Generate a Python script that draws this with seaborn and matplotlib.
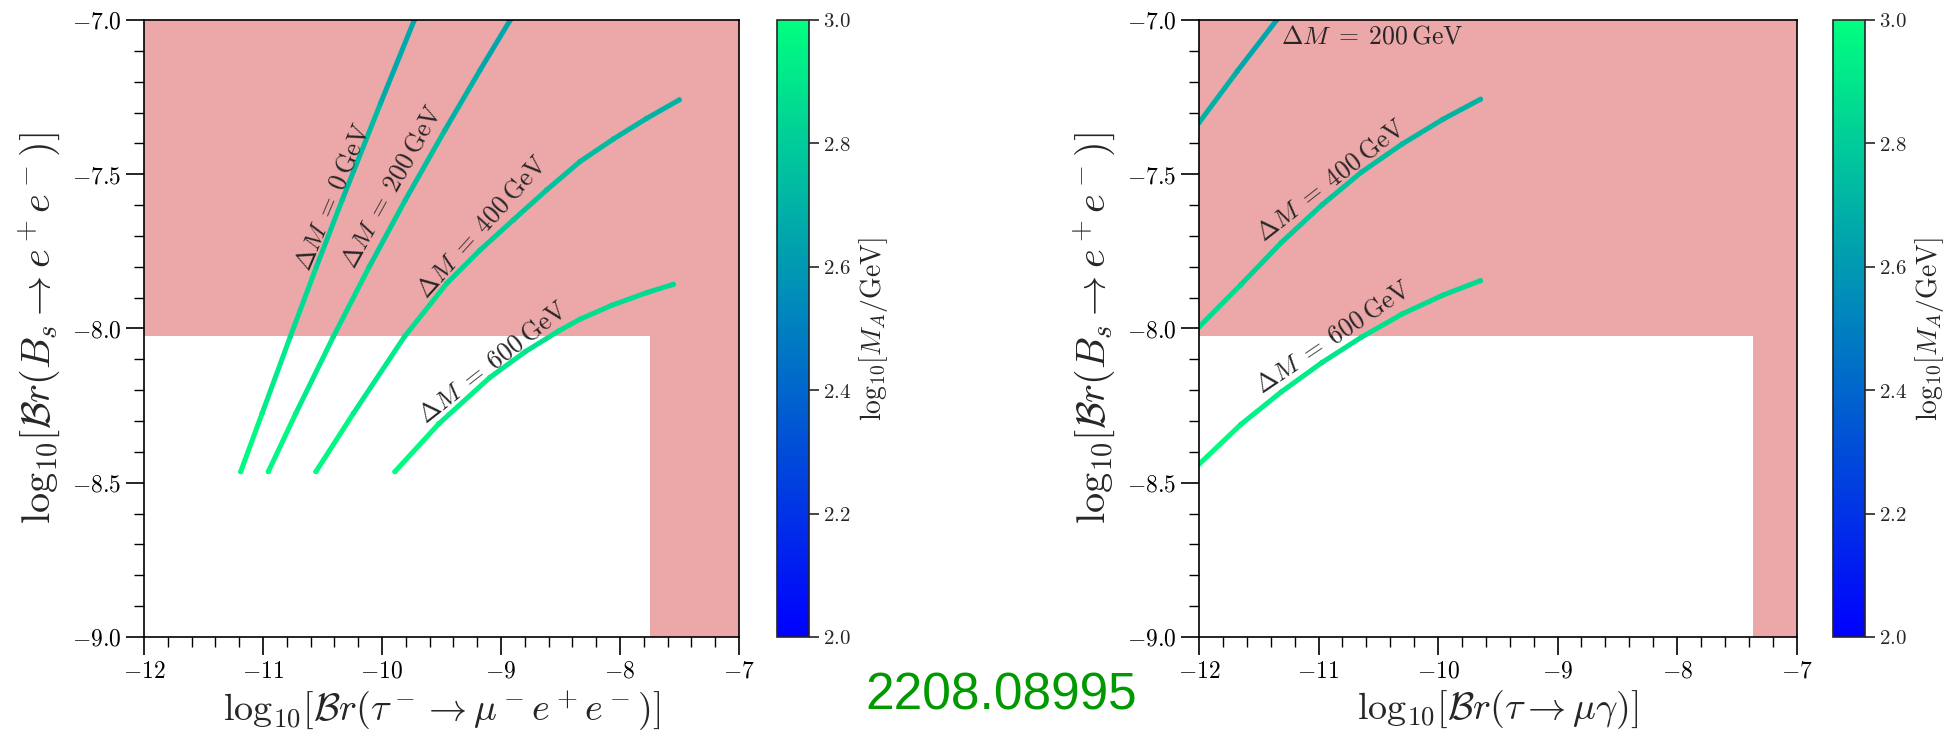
import numpy as np
import pandas as pd
import matplotlib
matplotlib.use('Agg')
import matplotlib.pyplot as plt
import seaborn as sns
from matplotlib.collections import LineCollection
from matplotlib.ticker import FuncFormatter, MultipleLocator

# --- dados (log10 Br) ---
# painel esquerdo: tau -> mu e e
l0_x = [-11.187, -11.007, -10.770, -10.551, -10.334, -10.012, -9.728]
l0_y = [-8.464, -8.275, -8.026, -7.80, -7.583, -7.270, -7.0]
l0_m = [3.0, 2.953, 2.89, 2.834, 2.78, 2.70, 2.634]

l200_x = [-10.955, -10.724, -10.408, -10.107, -9.803, -9.471, -9.175, -8.922]
l200_y = [-8.464, -8.275, -8.026, -7.80, -7.583, -7.357, -7.162, -7.0]
l200_m = [3.0, 2.953, 2.89, 2.834, 2.78, 2.723, 2.674, 2.634]

l400_x = [-10.555, -10.24, -9.81, -9.456, -9.176, -8.896, -8.616, -8.336, -8.056, -7.776, -7.502]
l400_y = [-8.464, -8.275, -8.026, -7.854, -7.746, -7.648, -7.551, -7.459, -7.386, -7.319, -7.259]
l400_m = [3.0, 2.953, 2.89, 2.848, 2.82, 2.796, 2.772, 2.749, 2.731, 2.714, 2.699]

l600_x = [-9.891, -9.523, -9.094, -8.795, -8.515, -8.336, -8.07, -7.776, -7.552]
l600_y = [-8.464, -8.309, -8.159, -8.075, -8.008, -7.970, -7.925, -7.884, -7.857]
l600_m = [3.0, 2.961, 2.924, 2.903, 2.886, 2.877, 2.865, 2.855, 2.848]

# painel direito: tau -> mu gamma
r200_x = [-12.0, -11.68, -11.35]
r200_y = [-7.333, -7.166, -7.0]
r200_m = [2.717, 2.675, 2.634]

r400_x = [-12.0, -11.65, -11.31, -10.97, -10.64, -10.30, -9.96, -9.645]
r400_y = [-7.995, -7.858, -7.721, -7.599, -7.493, -7.402, -7.322, -7.257]
r400_m = [2.883, 2.849, 2.814, 2.784, 2.757, 2.735, 2.715, 2.699]

r600_x = [-12.0, -11.65, -11.31, -10.97, -10.64, -10.30, -9.96, -9.645]
r600_y = [-8.44, -8.311, -8.205, -8.110, -8.028, -7.953, -7.892, -7.845]
r600_m = [2.994, 2.962, 2.936, 2.912, 2.892, 2.873, 2.858, 2.846]

# limites experimentais
bs_limit = -8.025
left_limit = -7.745
right_limit = -7.367

cbar_ticks = [2.0, 2.2, 2.4, 2.6, 2.8, 3.0]

sns.set_style('ticks')
plt.rcParams['mathtext.fontset'] = 'cm'
plt.rcParams['font.family'] = ['DejaVu Serif']

pink = '#eca7a8'
norm = plt.Normalize(2, 3)


def desenha_curva(ax, xs, ys, ms):
    pts = np.column_stack([xs, ys])
    segs = np.stack([pts[:-1], pts[1:]], axis=1)
    lc = LineCollection(segs, cmap='winter', norm=norm, linewidths=3.6,
                        capstyle='round', joinstyle='round', zorder=3)
    ms = np.array(ms)
    lc.set_array((ms[:-1] + ms[1:]) / 2)
    ax.add_collection(lc)
    df = pd.DataFrame({'x': xs, 'y': ys, 'm': ms})
    sns.scatterplot(data=df, x='x', y='y', hue='m', palette='winter', hue_norm=(2, 3),
                    s=14, linewidth=0, legend=False, ax=ax, zorder=4)


def ajusta_eixo(ax, xlabel, xlim_red):
    ax.axhspan(bs_limit, -7, color=pink, lw=0, zorder=1)
    ax.axvspan(xlim_red, -7, color=pink, lw=0, zorder=1)
    ax.set_xlim(-12, -7)
    ax.set_ylim(-9, -7)
    ax.xaxis.set_major_locator(MultipleLocator(1))
    ax.xaxis.set_minor_locator(MultipleLocator(0.2))
    ax.yaxis.set_major_locator(MultipleLocator(0.5))
    ax.yaxis.set_minor_locator(MultipleLocator(0.1))
    ax.xaxis.set_major_formatter(FuncFormatter(lambda v, p: f'${v:.0f}$'))
    ax.yaxis.set_major_formatter(FuncFormatter(lambda v, p: f'${v:.1f}$'))
    ax.tick_params(which='major', direction='out', length=13, width=1.2, labelsize=17, colors='black')
    ax.tick_params(which='minor', direction='out', length=7, width=1.0, colors='black')
    for s in ax.spines.values():
        s.set_linewidth(1.2)
        s.set_color('black')
        s.set_zorder(5)
    ax.set_xlabel(xlabel, fontsize=27.5)
    ax.set_ylabel(r'$\log_{10}\![\mathcal{B}r(B_s \to e^+ e^-)]$', fontsize=29, labelpad=6)


def barra_cor(cax):
    sm = plt.cm.ScalarMappable(norm=norm, cmap='winter')
    cb = fig.colorbar(sm, cax=cax)
    cb.set_ticks(cbar_ticks)
    cb.minorticks_off()
    cb.ax.yaxis.set_major_formatter(FuncFormatter(lambda v, p: f'${v:.1f}$'))
    cb.ax.tick_params(labelsize=15, length=7, width=1.2)
    cb.outline.set_linewidth(1.2)
    cb.set_label(r'$\log_{10}\![M_A/\mathrm{GeV}]$', fontsize=20)


fig = plt.figure(figsize=(19.56, 7.37), dpi=100)
ax1 = fig.add_axes([0.0736, 0.1357, 0.3042, 0.8372])
cax1 = fig.add_axes([0.3972, 0.1357, 0.0162, 0.8372])
ax2 = fig.add_axes([0.613, 0.1357, 0.3055, 0.8372])
cax2 = fig.add_axes([0.9371, 0.1357, 0.0162, 0.8372])

# painel esquerdo
desenha_curva(ax1, l0_x, l0_y, l0_m)
desenha_curva(ax1, l200_x, l200_y, l200_m)
desenha_curva(ax1, l400_x, l400_y, l400_m)
desenha_curva(ax1, l600_x, l600_y, l600_m)
ajusta_eixo(ax1, r'$\log_{10}\![\mathcal{B}r(\tau^- \to \mu^- e^+ e^-)]$', left_limit)

kw = dict(fontsize=18.5, ha='center', va='center', rotation_mode='anchor', zorder=6)
ax1.text(-10.42, -7.574, r'$\Delta M\;=\;0\,\mathrm{GeV}$', rotation=67, **kw)
ax1.text(-9.92, -7.54, r'$\Delta M\;=\;200\,\mathrm{GeV}$', rotation=61, **kw)
ax1.text(-9.16, -7.67, r'$\Delta M\;=\;400\,\mathrm{GeV}$', rotation=48, **kw)
ax1.text(-9.07, -8.11, r'$\Delta M\;=\;600\,\mathrm{GeV}$', rotation=38, **kw)

# painel direito
desenha_curva(ax2, r200_x, r200_y, r200_m)
desenha_curva(ax2, r400_x, r400_y, r400_m)
desenha_curva(ax2, r600_x, r600_y, r600_m)
ajusta_eixo(ax2, r'$\log_{10}\![\mathcal{B}r(\tau \to \mu\gamma)]$', right_limit)

ax2.text(-11.31, -7.052, r'$\Delta M\;=\;200\,\mathrm{GeV}$', fontsize=18.5, ha='left', va='center', zorder=6)
ax2.text(-10.90, -7.52, r'$\Delta M\;=\;400\,\mathrm{GeV}$', rotation=38, **kw)
ax2.text(-10.88, -8.025, r'$\Delta M\;=\;600\,\mathrm{GeV}$', rotation=34, **kw)

barra_cor(cax1)
barra_cor(cax2)

fig.text(1001 / 1956, 1 - 696 / 737, '2208.08995', color='#009900', fontsize=37,
         family='Liberation Sans', ha='center', va='center')

fig.savefig('out.png', dpi=100)
